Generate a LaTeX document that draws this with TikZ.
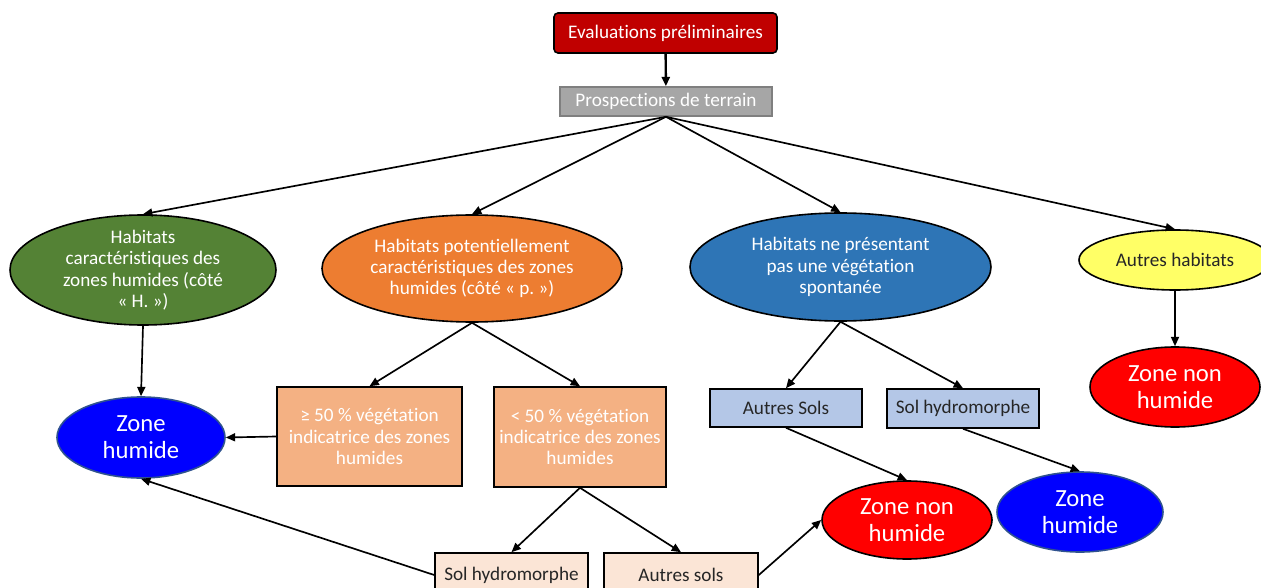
\documentclass[tikz,border=0pt]{standalone}
\usepackage{fontspec}
\setmainfont[Ligatures=CommonOff]{Carlito}
\usetikzlibrary{arrows.meta, shapes.geometric}
\definecolor{evalred}{HTML}{C00000}
\definecolor{prospgray}{HTML}{A6A6A6}
\definecolor{prospline}{HTML}{7F7F7F}
\definecolor{habgreen}{HTML}{548235}
\definecolor{haborange}{HTML}{ED7D31}
\definecolor{habblue}{HTML}{2E75B6}
\definecolor{habyellow}{HTML}{FFFF66}
\definecolor{salmon}{HTML}{F4B183}
\definecolor{peach}{HTML}{FBE5D6}
\definecolor{soilblue}{HTML}{B4C7E7}
\definecolor{zhblue}{HTML}{0000FF}
\definecolor{zhline}{HTML}{2F528F}
\definecolor{znhred}{HTML}{FF0000}
\definecolor{dktext}{HTML}{262626}

\begin{document}
\begin{tikzpicture}[x=0.75pt, y=-0.75pt, >={Triangle[length=7pt, width=6pt]}, line width=1.25pt,
  txt/.style={font=\fontsize{14.4}{16}\selectfont, align=center},
  bigtxt/.style={font=\fontsize{18.5}{20.3}\selectfont, align=center},
  ell/.style={ellipse, draw=black, line width=1.2pt, inner xsep=0pt, inner ysep=-4pt, text=white, txt},
  zonehum/.style={ell, fill=zhblue, draw=zhline, bigtxt},
  zonenon/.style={ell, fill=znhred, bigtxt},
  crit/.style={rectangle, draw=black, line width=1.2pt, fill=salmon, text=white, txt},
  soil/.style={rectangle, draw=black, line width=1.2pt, text=dktext, txt}]

\useasboundingbox (0,0) rectangle (1261,588);
\clip (0,0) rectangle (1261,588);

% ================================================================
% TOP
% ================================================================
\node[rectangle, rounded corners=3pt, draw=black, line width=1.2pt, fill=evalred, text=white, txt,
  minimum width=167.25pt, minimum height=30pt] (eval) at (665.5,33) {Evaluations préliminaires};
\node[rectangle, draw=prospline, line width=1.2pt, fill=prospgray, text=white, txt,
  minimum width=159pt, minimum height=21.75pt] (prosp) at (666,101.5) {Prospections de terrain};

\draw[->, line width=1.8pt] (eval) -- (prosp);

% ================================================================
% HABITATS
% ================================================================
\node[ell, fill=habgreen, minimum width=199.5pt, minimum height=82.5pt] (hcar) at (143,270)
  {Habitats\\caractéristiques des\\zones humides (côté\\«~H.~»)};
\node[ell, fill=haborange, minimum width=225pt, minimum height=80.25pt] (hpot) at (472,268.5)
  {Habitats potentiellement\\caractéristiques des zones\\humides (côté «~p.~»)};
\node[ell, fill=habblue, minimum width=225.75pt, minimum height=81pt] (hnon) at (840.5,267)
  {Habitats ne présentant\\pas une végétation\\spontanée};
\node[ell, fill=habyellow, text=dktext, minimum width=144pt, minimum height=45pt] (haut) at (1175,260)
  {Autres habitats};

\foreach \h in {hcar, hpot, hnon, haut}
  \draw[->] (prosp.south) -- (\h.north);

% ================================================================
% CRITERIA AND SOILS
% ================================================================
\node[crit, minimum width=138.75pt, minimum height=74.25pt] (ge50) at (369.5,436.5)
  {≥ 50 \% végétation\\indicatrice des zones\\humides};
\node[crit, minimum width=129pt, minimum height=75pt] (lt50) at (580,437)
  {< 50 \% végétation\\indicatrice des zones\\humides};

\node[soil, fill=soilblue, minimum width=114pt, minimum height=28.5pt] (autS) at (786,408) {Autres Sols};
\node[soil, fill=soilblue, minimum width=114pt, minimum height=29.25pt] (hydA) at (963,408.5) {Sol hydromorphe};
\node[soil, fill=peach, minimum width=114.75pt, minimum height=33pt] (hydB) at (511.5,575) {Sol hydromorphe};
\node[soil, fill=peach, minimum width=115.5pt, minimum height=33pt] (autB) at (681,575) {Autres sols};

% ================================================================
% RESULTS
% ================================================================
\node[zonehum, minimum width=126pt, minimum height=60.75pt] (zhL) at (141,437.5) {Zone\\humide};
\node[zonehum, minimum width=124.5pt, minimum height=60pt] (zhR) at (1080,512) {Zone\\humide};
\node[zonenon, minimum width=127.5pt, minimum height=58.5pt] (znhM) at (907,520) {Zone non\\humide};
\node[zonenon, minimum width=127.5pt, minimum height=60pt] (znhR) at (1175,387) {Zone non\\humide};

% Connectors
\draw[->] (hcar.south) -- (zhL.north);
\draw[->] (hpot.south) -- (ge50.north);
\draw[->] (hpot.south) -- (lt50.north);
\draw[->] (ge50.west) -- (zhL.east);
\draw[->] (lt50.south) -- (hydB.north);
\draw[->] (lt50.south) -- (autB.north);
\draw[->] (hydB.west) -- (zhL.south);
\draw[->] (autB.east) -- (znhM.west);
\draw[->] (hnon.south) -- (autS.north);
\draw[->] (hnon.south) -- (hydA.north);
\draw[->] (autS.south) -- (znhM.north);
\draw[->] (hydA.south) -- (zhR.north);
\draw[->] (haut.south) -- (znhR.north);

\end{tikzpicture}
\end{document}
